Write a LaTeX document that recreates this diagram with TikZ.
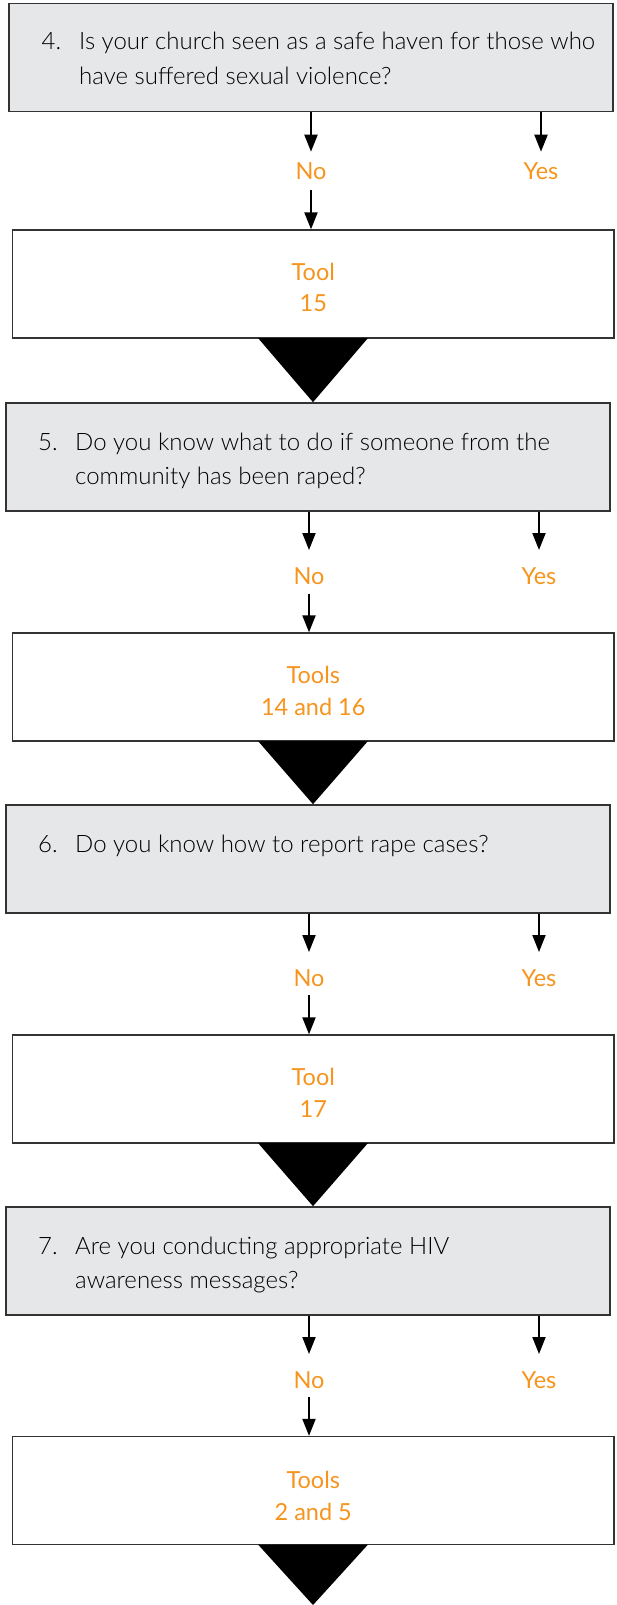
\documentclass[tikz,border=0pt]{standalone}
\usepackage{fontspec}
\IfFontExistsTF{Lato Light}{\setmainfont{Lato Light}\newfontfamily\orfont{Lato}}{\setmainfont{Lato}\newfontfamily\orfont{Lato}}
\usetikzlibrary{arrows.meta}
\definecolor{qgray}{HTML}{E6E7E8}
\definecolor{qorange}{HTML}{F7941D}
\definecolor{qborder}{HTML}{333333}
\tikzset{
  qbox/.style={draw=qborder, line width=1.3pt, fill=qgray, inner sep=0pt, minimum width=604pt, minimum height=108pt},
  tbox/.style={draw=qborder, line width=1.3pt, fill=white, inner sep=0pt, minimum width=601.5pt, minimum height=108pt},
  qtext/.style={anchor=base west, inner sep=0pt, font=\fontsize{24}{28}\selectfont, text=black},
  otext/.style={anchor=base, inner sep=0pt, font=\orfont\fontsize{23.5}{28}\selectfont, text=qorange},
  arr/.style={line width=2pt, -{Triangle[length=17pt, width=13pt]}},
  bigtri/.style={fill=black}
}
\begin{document}
\begin{tikzpicture}[x=1pt, y=-1pt]
\useasboundingbox (0,0) rectangle (617,1605);
% ---------- stage 4 ----------
\node[qbox] (q4) at (311,57.85) {};
\node[qtext] (q4n) at (41.5,50) {4.};
\node[qtext] (q4a) at (79,50) {Is your church seen as a safe haven for those who};
\node[qtext] (q4b) at (79,84.5) {have suffered sexual violence?};
\node[otext] (no4) at (311,180) {No};
\node[otext] (yes4) at (541,180) {Yes};
\coordinate (no4t) at (311,151.7);
\coordinate (yes4t) at (541,151.7);
\coordinate (no4s) at (311,190);
\node[tbox] (t4) at (313.25,284) {};
\node[otext] (t4a) at (313.25,280) {Tool};
\node[otext] (t4b) at (313.25,311.5) {15};
\draw[arr] (q4.south -| no4t) -- (no4t);
\draw[arr] (q4.south -| yes4t) -- (yes4t);
\draw[arr] (no4s) -- (t4.north -| no4s);
% ---------- stage 5 ----------
\node[qbox] (q5) at (308,456.85) {};
\fill[bigtri] (258,338) -- (368,338) -- (q5.north -| 313,0) -- cycle;
\node[qtext] (q5n) at (38,450) {5.};
\node[qtext] (q5a) at (75,450) {Do you know what to do if someone from the};
\node[qtext] (q5b) at (75,484.5) {community has been raped?};
\node[otext] (no5) at (309,584) {No};
\node[otext] (yes5) at (539,584) {Yes};
\coordinate (no5t) at (309,550);
\coordinate (yes5t) at (539,550);
\coordinate (no5s) at (309,594);
\node[tbox] (t5) at (313.25,687) {};
\node[otext] (t5a) at (313.25,683.5) {Tools};
\node[otext] (t5b) at (313.25,715.5) {14 and 16};
\draw[arr] (q5.south -| no5t) -- (no5t);
\draw[arr] (q5.south -| yes5t) -- (yes5t);
\draw[arr] (no5s) -- (t5.north -| no5s);
% ---------- stage 6 ----------
\node[qbox] (q6) at (308,858.85) {};
\fill[bigtri] (258,741) -- (368,741) -- (q6.north -| 313,0) -- cycle;
\node[qtext] (q6n) at (38,852) {6.};
\node[qtext] (q6a) at (75,852) {Do you know how to report rape cases?};
\node[otext] (no6) at (309,986) {No};
\node[otext] (yes6) at (539,986) {Yes};
\coordinate (no6t) at (309,952);
\coordinate (yes6t) at (539,952);
\coordinate (no6s) at (309,995);
\node[tbox] (t6) at (313.25,1089) {};
\node[otext] (t6a) at (313.25,1085.5) {Tool};
\node[otext] (t6b) at (313.25,1117.5) {17};
\draw[arr] (q6.south -| no6t) -- (no6t);
\draw[arr] (q6.south -| yes6t) -- (yes6t);
\draw[arr] (no6s) -- (t6.north -| no6s);
% ---------- stage 7 ----------
\node[qbox] (q7) at (308,1260.85) {};
\fill[bigtri] (258,1143) -- (368,1143) -- (q7.north -| 313,0) -- cycle;
\node[qtext] (q7n) at (38,1254) {7.};
\node[qtext] (q7a) at (75,1254) {Are you conducting appropriate HIV};
\node[qtext] (q7b) at (75,1288.5) {awareness messages?};
\node[otext] (no7) at (309,1388) {No};
\node[otext] (yes7) at (539,1388) {Yes};
\coordinate (no7t) at (309,1354);
\coordinate (yes7t) at (539,1354);
\coordinate (no7s) at (309,1397);
\node[tbox] (t7) at (313.25,1490.5) {};
\node[otext] (t7a) at (313.25,1488.5) {Tools};
\node[otext] (t7b) at (313.25,1520.5) {2 and 5};
\draw[arr] (q7.south -| no7t) -- (no7t);
\draw[arr] (q7.south -| yes7t) -- (yes7t);
\draw[arr] (no7s) -- (t7.north -| no7s);
\fill[bigtri] (258,1544.5) -- (368,1544.5) -- (313,1605) -- cycle;
\end{tikzpicture}
\end{document}
